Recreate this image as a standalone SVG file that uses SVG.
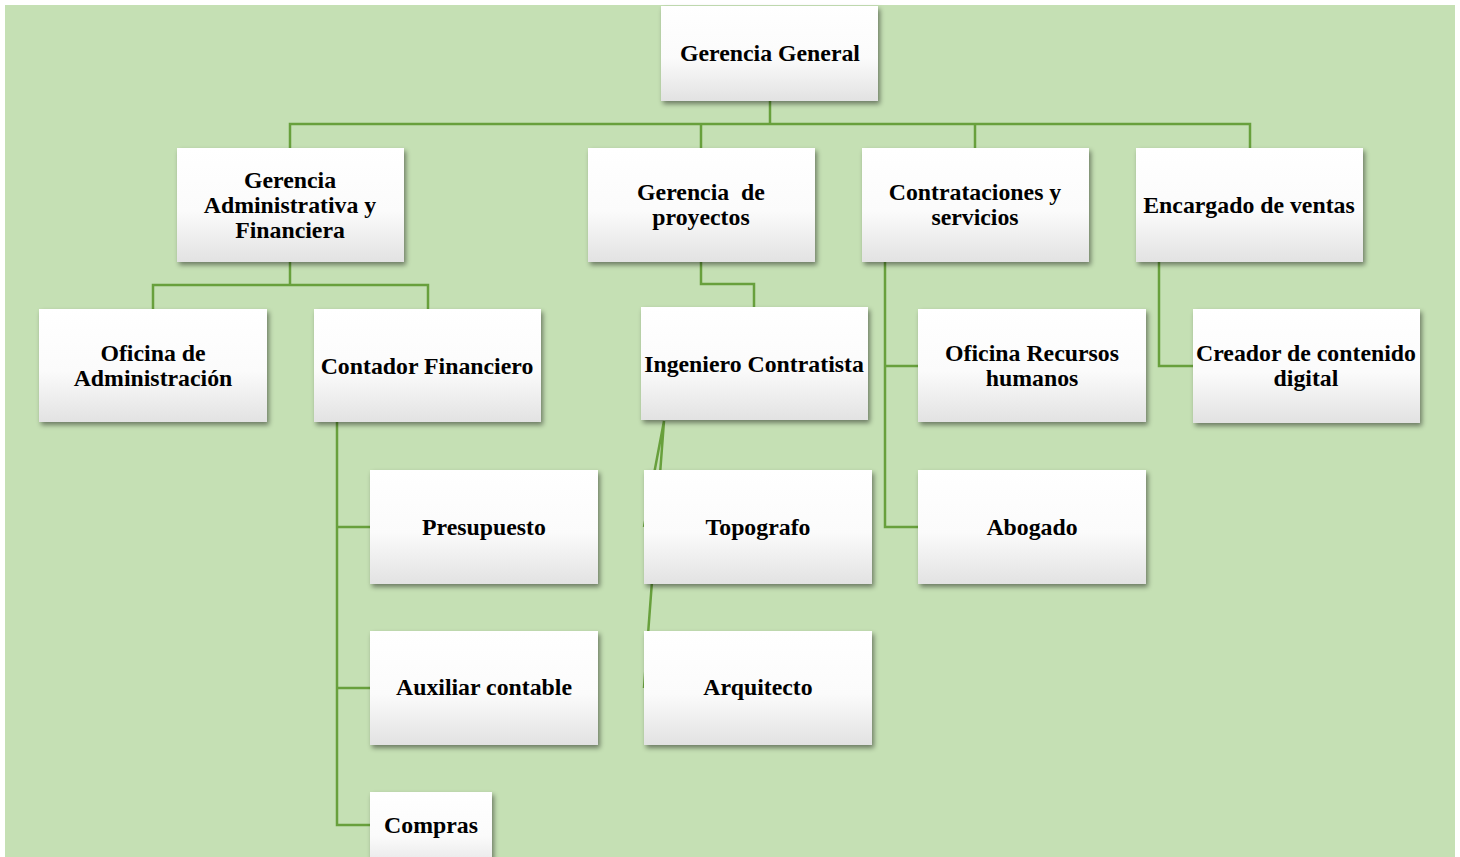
<svg xmlns="http://www.w3.org/2000/svg" width="1460" height="857" viewBox="0 0 1460 857">
<style>
.bx{fill:url(#g);filter:url(#sh)}
.t{font-family:"Liberation Serif","Times New Roman",serif;font-weight:bold;font-size:23.8px;fill:#000;text-anchor:middle;white-space:pre}
.c{fill:none;stroke:#68a03c;stroke-width:2.5}
</style>
<defs>
<linearGradient id="g" x1="0" y1="0" x2="0" y2="1">
<stop offset="0" stop-color="#ffffff"/>
<stop offset="0.55" stop-color="#fbfbfb"/>
<stop offset="1" stop-color="#e2e2e2"/>
</linearGradient>
<filter id="sh" x="-10%" y="-10%" width="125%" height="130%">
<feDropShadow dx="2" dy="3" stdDeviation="2.5" flood-color="#000" flood-opacity="0.45"/>
</filter>
</defs>
<rect x="5" y="5" width="1450" height="852" fill="#c5e0b4"/>
<g id="connectors">
<path class="c" d="M770 101V124M290 148V124H1250V148M701 124V148M975 124V148"/>
<path class="c" d="M290 262V285M153 309V285H428V309"/>
<path class="c" d="M701 262V284H754V307"/>
<path class="c" d="M885 262V527H918M885 366H918"/>
<path class="c" d="M1159 262V366H1193"/>
<path class="c" d="M337 422V825H370M337 527H370M337 688H370"/>
<path class="c" d="M664 421L644 527M664 421L644 688"/>
</g>
<g id="n-gerencia-general"><rect class="bx" x="661" y="6" width="217" height="95"/><text class="t" x="770" y="61">Gerencia General</text></g>
<g id="n-gerencia-admin"><rect class="bx" x="177" y="148" width="227" height="114"/><text class="t" x="290" y="188">Gerencia</text><text class="t" x="290" y="213">Administrativa y</text><text class="t" x="290" y="238">Financiera</text></g>
<g id="n-gerencia-proyectos"><rect class="bx" x="588" y="148" width="227" height="114"/><text class="t" x="701" y="200">Gerencia  de</text><text class="t" x="701" y="225">proyectos</text></g>
<g id="n-contrataciones"><rect class="bx" x="862" y="148" width="227" height="114"/><text class="t" x="975" y="200">Contrataciones y</text><text class="t" x="975" y="225">servicios</text></g>
<g id="n-encargado-ventas"><rect class="bx" x="1136" y="148" width="227" height="114"/><text class="t" x="1249" y="213">Encargado de ventas</text></g>
<g id="n-oficina-admin"><rect class="bx" x="39" y="309" width="228" height="113"/><text class="t" x="153" y="361">Oficina de</text><text class="t" x="153" y="386">Administración</text></g>
<g id="n-contador"><rect class="bx" x="314" y="309" width="227" height="113"/><text class="t" x="427" y="374">Contador Financiero</text></g>
<g id="n-ingeniero"><rect class="bx" x="641" y="307" width="227" height="113"/><text class="t" x="754" y="372">Ingeniero Contratista</text></g>
<g id="n-oficina-rh"><rect class="bx" x="918" y="309" width="228" height="113"/><text class="t" x="1032" y="361">Oficina Recursos</text><text class="t" x="1032" y="386">humanos</text></g>
<g id="n-creador"><rect class="bx" x="1193" y="309" width="227" height="114"/><text class="t" x="1306" y="361">Creador de contenido</text><text class="t" x="1306" y="386">digital</text></g>
<g id="n-presupuesto"><rect class="bx" x="370" y="470" width="228" height="114"/><text class="t" x="484" y="535">Presupuesto</text></g>
<g id="n-topografo"><rect class="bx" x="644" y="470" width="228" height="114"/><text class="t" x="758" y="535">Topografo</text></g>
<g id="n-abogado"><rect class="bx" x="918" y="470" width="228" height="114"/><text class="t" x="1032" y="535">Abogado</text></g>
<g id="n-auxiliar"><rect class="bx" x="370" y="631" width="228" height="114"/><text class="t" x="484" y="695">Auxiliar contable</text></g>
<g id="n-arquitecto"><rect class="bx" x="644" y="631" width="228" height="114"/><text class="t" x="758" y="695">Arquitecto</text></g>
<g id="n-compras"><rect class="bx" x="370" y="792" width="122" height="80"/><text class="t" x="431" y="833">Compras</text></g>
</svg>
